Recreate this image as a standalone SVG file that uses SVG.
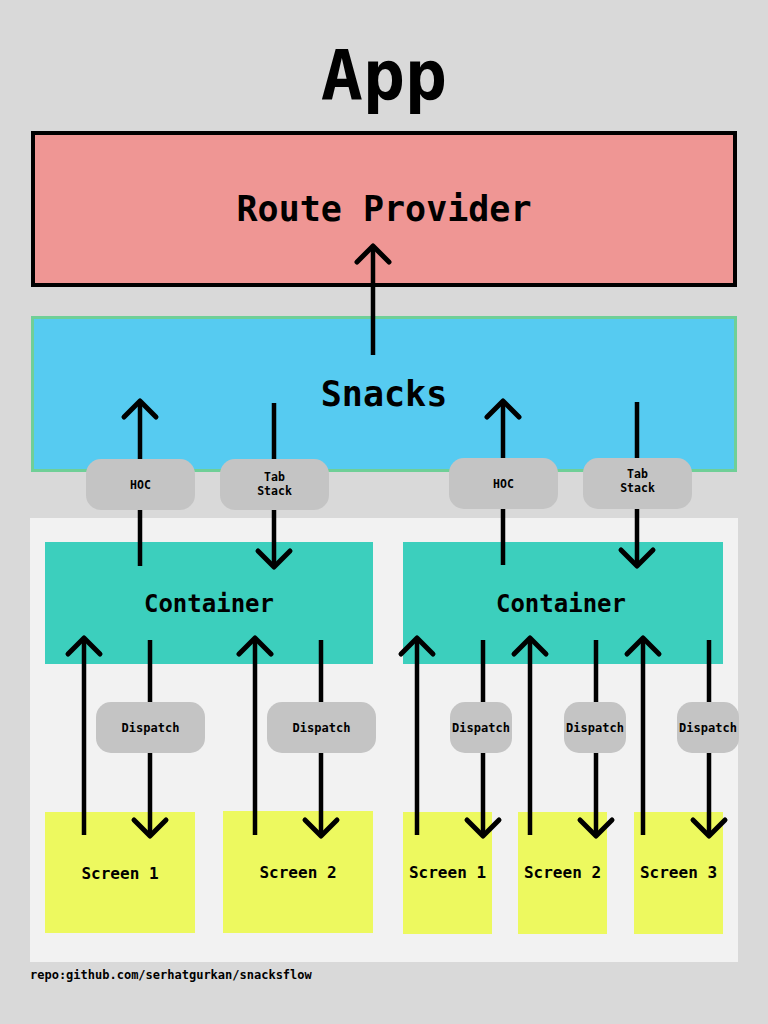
<svg xmlns="http://www.w3.org/2000/svg" width="768" height="1024" viewBox="0 0 768 1024">
<style>
text{font-family:"DejaVu Sans Mono","Liberation Mono",monospace;font-weight:bold;fill:#000;text-anchor:middle}
.pill{fill:#c4c4c4}
.cont{fill:#3ccfbd}
.scr{fill:#edf95f}
.conn path{fill:none;stroke:#000;stroke-width:4.5;stroke-linecap:butt}
</style>
<defs>
<marker id="ah" markerUnits="userSpaceOnUse" markerWidth="44" markerHeight="44" viewBox="-22 -22 44 44" refX="0" refY="0" orient="auto" overflow="visible">
<path d="M-16,-16 L0,0 L-16,16" fill="none" stroke="#000" stroke-width="5" stroke-linecap="round" stroke-linejoin="round"/>
</marker>
</defs>
<rect x="0" y="0" width="768" height="1024" fill="#d9d9d9"/>
<text id="title" x="384" y="100" font-size="70">App</text>

<g id="route-provider">
<rect x="33" y="133" width="702" height="152" fill="#ef9694" stroke="#000" stroke-width="4"/>
<text x="384" y="221" font-size="35">Route Provider</text>
</g>
<g id="snacks">
<rect x="32.5" y="317.5" width="703" height="153" fill="#56cbf1" stroke="#6fcf97" stroke-width="3"/>
<text x="384" y="406" font-size="35">Snacks</text>
</g>
<rect id="panel" x="30" y="518" width="708" height="444" fill="#f2f2f2"/>

<g id="container-left">
<rect class="cont" x="45" y="542" width="328" height="122"/>
<text x="209" y="612" font-size="24">Container</text>
</g>
<g id="container-right">
<rect class="cont" x="403" y="542" width="320" height="122"/>
<text x="561" y="612" font-size="24">Container</text>
</g>

<g id="screen-l1"><rect class="scr" x="45" y="812" width="150" height="121"/><text x="120" y="879" font-size="16">Screen 1</text></g>
<g id="screen-l2"><rect class="scr" x="223" y="811" width="150" height="122"/><text x="298" y="878" font-size="16">Screen 2</text></g>
<g id="screen-r1"><rect class="scr" x="403" y="812" width="89" height="122"/><text x="447.5" y="878" font-size="16">Screen 1</text></g>
<g id="screen-r2"><rect class="scr" x="518" y="812" width="89" height="122"/><text x="562.5" y="878" font-size="16">Screen 2</text></g>
<g id="screen-r3"><rect class="scr" x="634" y="812" width="89" height="122"/><text x="678.5" y="878" font-size="16">Screen 3</text></g>

<g class="conn" id="connectors">
<path d="M373,355 L373,246" marker-end="url(#ah)"/>
<path d="M140,566 L140,401" marker-end="url(#ah)"/>
<path d="M274,403 L274,567" marker-end="url(#ah)"/>
<path d="M503,565 L503,401" marker-end="url(#ah)"/>
<path d="M637,402 L637,566" marker-end="url(#ah)"/>
<path d="M84,835 L84,638" marker-end="url(#ah)"/>
<path d="M150,640 L150,836" marker-end="url(#ah)"/>
<path d="M255,835 L255,638" marker-end="url(#ah)"/>
<path d="M321,640 L321,836" marker-end="url(#ah)"/>
<path d="M417,835 L417,638" marker-end="url(#ah)"/>
<path d="M483,640 L483,836" marker-end="url(#ah)"/>
<path d="M530,835 L530,638" marker-end="url(#ah)"/>
<path d="M596,640 L596,836" marker-end="url(#ah)"/>
<path d="M643,835 L643,638" marker-end="url(#ah)"/>
<path d="M709,640 L709,836" marker-end="url(#ah)"/>
</g>

<g id="hoc-left"><rect class="pill" x="86" y="459" width="109" height="51" rx="15"/><text x="140.5" y="489" font-size="11.5">HOC</text></g>
<g id="tab-left"><rect class="pill" x="220" y="459" width="109" height="51" rx="15"/><text x="274.5" y="481" font-size="11.5">Tab</text><text x="274.5" y="495" font-size="11.5">Stack</text></g>
<g id="hoc-right"><rect class="pill" x="449" y="458" width="109" height="51" rx="15"/><text x="503.5" y="488" font-size="11.5">HOC</text></g>
<g id="tab-right"><rect class="pill" x="583" y="458" width="109" height="51" rx="15"/><text x="637.5" y="478" font-size="11.5">Tab</text><text x="637.5" y="492" font-size="11.5">Stack</text></g>

<g id="dispatch-l1"><rect class="pill" x="96" y="702" width="109" height="51" rx="15"/><text x="150.5" y="732" font-size="12">Dispatch</text></g>
<g id="dispatch-l2"><rect class="pill" x="267" y="702" width="109" height="51" rx="15"/><text x="321.5" y="732" font-size="12">Dispatch</text></g>
<g id="dispatch-r1"><rect class="pill" x="450" y="702" width="62" height="51" rx="15"/><text x="481" y="732" font-size="12">Dispatch</text></g>
<g id="dispatch-r2"><rect class="pill" x="564" y="702" width="62" height="51" rx="15"/><text x="595" y="732" font-size="12">Dispatch</text></g>
<g id="dispatch-r3"><rect class="pill" x="677" y="702" width="62" height="51" rx="15"/><text x="708" y="732" font-size="12">Dispatch</text></g>

<text id="footer" x="30" y="979" font-size="12" style="text-anchor:start">repo:github.com/serhatgurkan/snacksflow</text>
</svg>
